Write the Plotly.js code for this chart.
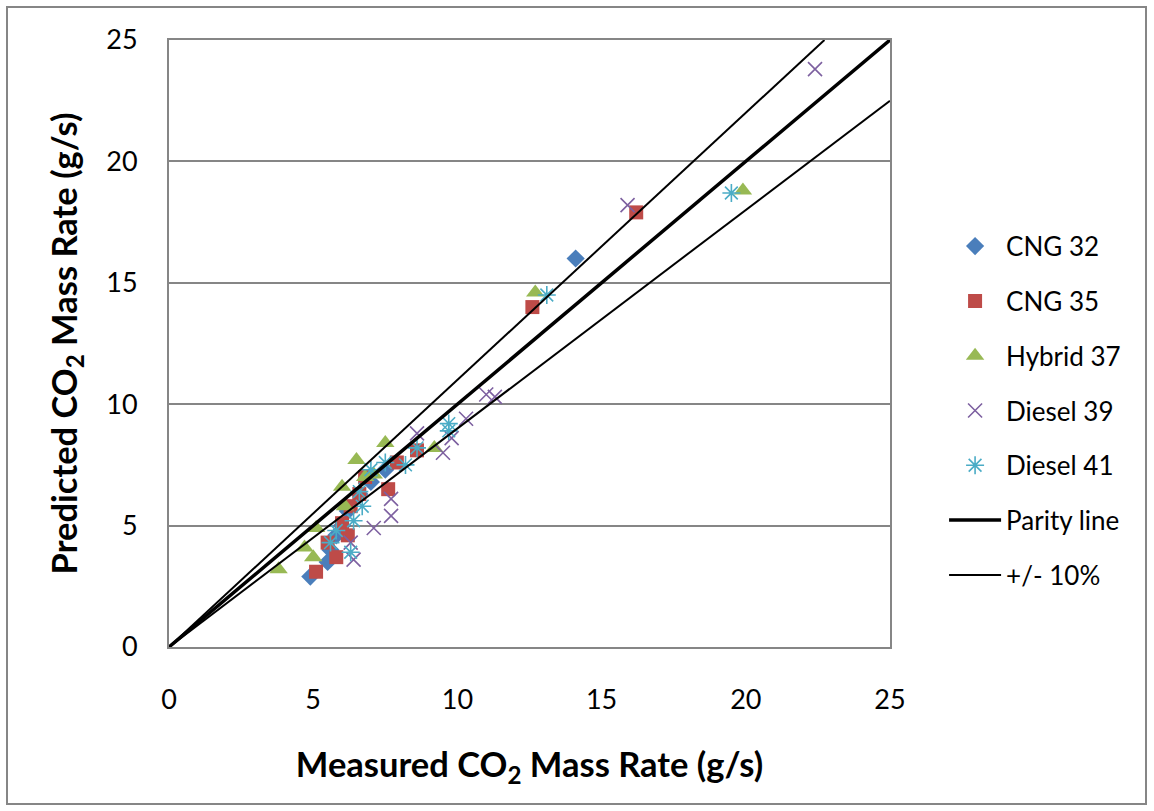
<!DOCTYPE html>
<html>
<head>
<meta charset="utf-8">
<script src="https://cdn.plot.ly/plotly-3.0.1.min.js"></script>
<style>
html,body{margin:0;padding:0;background:#fff;}
#wrap{position:relative;width:1154px;height:811px;}
#chart{width:1154px;height:811px;}
#frame{position:absolute;left:6px;top:6px;width:1141px;height:799px;border:2px solid #868686;box-sizing:border-box;pointer-events:none;}
</style>
</head>
<body>
<div id="wrap"><div id="chart"></div><div id="frame"></div></div>
<script>
// Measured (x) and predicted (y) CO2 mass rates, g/s
const cng32_x = [4.9, 5.5, 5.6, 5.8, 6.0, 6.2, 6.6, 7.0, 7.5, 14.1];
const cng32_y = [2.9, 3.5, 4.0, 4.6, 5.0, 5.6, 6.3, 6.8, 7.3, 16.0];
const cng35_x = [5.1, 5.8, 5.5, 6.2, 6.0, 6.3, 6.6, 6.8, 7.6, 7.9, 8.6, 12.6, 16.2];
const cng35_y = [3.1, 3.7, 4.3, 4.6, 5.1, 5.8, 6.3, 7.0, 6.5, 7.6, 8.1, 14.0, 17.9];
const hyb37_x = [3.8, 4.7, 5.0, 5.1, 6.0, 6.1, 6.5, 6.8, 7.1, 7.5, 9.2, 12.7, 19.9];
const hyb37_y = [3.2, 4.1, 3.7, 4.9, 6.6, 5.8, 7.7, 7.0, 7.1, 8.4, 8.2, 14.6, 18.8];
const dsl39_x = [6.3, 6.4, 7.1, 7.7, 7.7, 8.6, 9.5, 9.8, 10.3, 11.0, 11.3, 15.9, 22.4];
const dsl39_y = [4.3, 3.6, 4.9, 5.4, 6.1, 8.8, 8.0, 8.6, 9.4, 10.4, 10.3, 18.2, 23.8];
const dsl41_x = [5.6, 5.8, 6.3, 6.4, 6.7, 6.6, 7.0, 7.5, 8.2, 8.6, 9.7, 9.7, 13.1, 19.5];
const dsl41_y = [4.3, 4.8, 3.9, 5.2, 5.8, 6.4, 7.3, 7.6, 7.5, 8.2, 8.9, 9.2, 14.5, 18.7];
const parity_x = [0, 25];
const parity_y = [0, 25];
const upper_x = [0, 22.727];
const upper_y = [0, 25];
const lower_x = [0, 25];
const lower_y = [0, 22.5];
const xTicks = [0, 5, 10, 15, 20, 25];
const yTicks = [0, 5, 10, 15, 20, 25];

const names = ['CNG 32', 'CNG 35', 'Hybrid 37', 'Diesel 39', 'Diesel 41'];
const colors = ['#4A7EBB', '#BE4B48', '#98B954', '#7D60A0', '#4BACC6'];

const traces = [
  {x: cng32_x, y: cng32_y, name: names[0], type: 'scatter', mode: 'markers', legendgroup: 'a',
   marker: {symbol: 'diamond', size: 14, color: colors[0]}},
  {x: cng35_x, y: cng35_y, name: names[1], type: 'scatter', mode: 'markers', legendgroup: 'b',
   marker: {symbol: 'square', size: 14, color: colors[1]}},
  {x: hyb37_x, y: hyb37_y, name: names[2], type: 'scatter', mode: 'markers', legendgroup: 'c',
   marker: {symbol: 'triangle-up', size: 16, color: colors[2]}},
  {x: dsl39_x, y: dsl39_y, name: names[3], type: 'scatter', mode: 'markers', legendgroup: 'd',
   marker: {symbol: 'x-thin-open', size: 14, color: colors[3], line: {width: 1.6, color: colors[3]}}},
  {x: dsl41_x, y: dsl41_y, name: names[4], type: 'scatter', mode: 'markers', legendgroup: 'e',
   marker: {symbol: 'asterisk-open', size: 15, color: colors[4], line: {width: 1.6, color: colors[4]}}},
  {x: parity_x, y: parity_y, name: 'Parity line', type: 'scatter', mode: 'lines', legendgroup: 'f',
   line: {color: '#000', width: 3.5}},
  {x: upper_x, y: upper_y, name: '+/- 10%', type: 'scatter', mode: 'lines', legendgroup: 'g',
   line: {color: '#000', width: 2}},
  {x: lower_x, y: lower_y, name: '+/- 10%', type: 'scatter', mode: 'lines', legendgroup: 'g', showlegend: false,
   line: {color: '#000', width: 2}}
];

const font = 'Lato, "Open Sans", sans-serif';
const layout = {
  width: 1154, height: 811,
  margin: {l: 169, r: 264, t: 40, b: 164},
  paper_bgcolor: '#fff', plot_bgcolor: '#fff',
  font: {family: font, size: 27, color: '#000'},
  showlegend: true,
  legend: {x: 1.075, xanchor: 'left', y: 0.699, yanchor: 'top', itemwidth: 52,
           tracegroupgap: 18, font: {family: font, size: 26, color: '#000'}, bgcolor: 'rgba(0,0,0,0)'},
  xaxis: {range: [0, 25], tickvals: xTicks, ticktext: xTicks.map(String), showgrid: false, zeroline: false,
          showline: true, linecolor: '#868686', linewidth: 2, mirror: true,
          ticks: 'outside', ticklen: 28, tickcolor: 'rgba(0,0,0,0)',
          tickfont: {family: font, size: 27},
          title: {text: '<b>Measured CO<sub>2</sub> Mass Rate (g/s)</b>', font: {family: font, size: 34.5}, standoff: 38}},
  yaxis: {range: [0, 25], tickvals: yTicks, ticktext: yTicks.map(String), showgrid: true, gridcolor: '#868686', gridwidth: 2,
          zeroline: false, showline: true, linecolor: '#868686', linewidth: 2, mirror: true,
          ticks: 'outside', ticklen: 24, tickcolor: 'rgba(0,0,0,0)',
          tickfont: {family: font, size: 27},
          title: {text: '<b>Predicted CO<sub>2</sub> Mass Rate (g/s)</b>', font: {family: font, size: 34.5}, standoff: 18}}
};

Plotly.newPlot('chart', traces, layout, {displayModeBar: false, staticPlot: true});
</script>
</body>
</html>
